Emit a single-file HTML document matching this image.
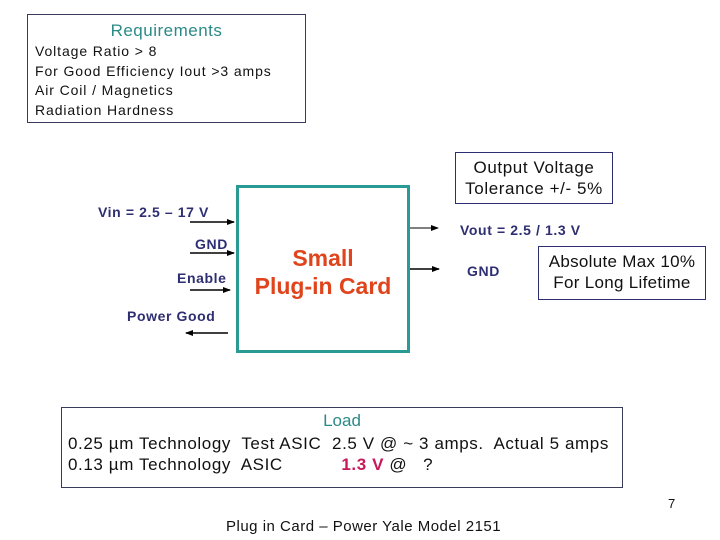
<!DOCTYPE html>
<html><head><style>
body{margin:0;width:720px;height:540px;background:#fff;position:relative;overflow:hidden;font-family:"Liberation Sans",sans-serif}
.a{position:absolute;white-space:nowrap}
.b{position:absolute;border:1px solid #3a3a5a;box-sizing:border-box}
.nv{color:#2e2e72;font-weight:bold;font-size:14px;letter-spacing:0.6px}
</style></head><body>
<div class="b" style="left:27px;top:14px;width:279px;height:109px"></div>
<div class="a" style="left:27px;width:279px;text-align:center;top:21px;font-size:17px;color:#2a8a86;letter-spacing:0.5px">Requirements</div>
<div class="a" style="left:35px;top:42px;font-size:14px;line-height:19.5px;color:#111;letter-spacing:0.9px">Voltage Ratio &gt; 8<br>For Good Efficiency Iout &gt;3 amps<br>Air Coil / Magnetics<br>Radiation Hardness</div>

<div class="b" style="left:455px;top:152px;width:158px;height:52px;border-color:#2e2e72"></div>
<div class="a" style="left:455px;width:158px;text-align:center;top:157px;font-size:17px;line-height:21px;color:#111;letter-spacing:0.6px">Output Voltage<br>Tolerance +/- 5%</div>

<div class="b" style="left:538px;top:246px;width:168px;height:54px;border-color:#2e2e72"></div>
<div class="a" style="left:538px;width:168px;text-align:center;top:251px;font-size:17px;line-height:21px;color:#111;letter-spacing:0.3px">Absolute Max 10%<br>For Long Lifetime</div>

<div class="b" style="left:236px;top:185px;width:174px;height:168px;border:3px solid #2a9a94"></div>
<div class="a" style="left:236px;width:174px;text-align:center;top:244px;font-size:23px;line-height:28px;font-weight:bold;color:#e0441c">Small<br>Plug-in Card</div>

<div class="a nv" style="left:98px;top:204px">Vin = 2.5 – 17 V</div>
<div class="a nv" style="left:195px;top:236px">GND</div>
<div class="a nv" style="left:177px;top:270px">Enable</div>
<div class="a nv" style="left:127px;top:308px">Power Good</div>
<div class="a nv" style="left:460px;top:222px">Vout = 2.5 / 1.3 V</div>
<div class="a nv" style="left:467px;top:263px">GND</div>

<svg class="a" style="left:0;top:0" width="720" height="540">
<defs><marker id="m" markerWidth="8" markerHeight="8" refX="7" refY="4" orient="auto" markerUnits="userSpaceOnUse"><path d="M0,1 L8,4 L0,7z" fill="#000"/></marker></defs>
<g stroke="#000" stroke-width="1.5" marker-end="url(#m)">
<line x1="190" y1="222" x2="234" y2="222"/>
<line x1="190" y1="253" x2="234" y2="253"/>
<line x1="190" y1="290" x2="230" y2="290"/>
<line x1="228" y1="333" x2="186" y2="333"/>
<line x1="410" y1="228" x2="438" y2="228" stroke-width="1"/>
<line x1="410" y1="269" x2="439" y2="269"/>
</g></svg>

<div class="b" style="left:61px;top:407px;width:562px;height:81px"></div>
<div class="a" style="left:61px;width:562px;text-align:center;top:411px;font-size:17px;color:#2a8a86">Load</div>
<div class="a" style="left:68px;top:433px;font-size:17px;line-height:21px;color:#111;letter-spacing:0.6px">0.25 µm Technology&nbsp; Test ASIC&nbsp; 2.5 V @ ~ 3 amps.&nbsp; Actual 5 amps<br>0.13 µm Technology&nbsp; ASIC&nbsp;&nbsp;&nbsp;&nbsp;&nbsp;&nbsp;&nbsp;&nbsp;&nbsp;&nbsp; <b style="color:#c8185a">1.3 V</b> @&nbsp;&nbsp; ?</div>

<div class="a" style="left:668px;top:496px;font-size:13px;color:#111">7</div>
<div class="a" style="left:226px;top:518px;font-size:15px;color:#111;letter-spacing:0.5px">Plug in Card – Power Yale Model 2151</div>
</body></html>
